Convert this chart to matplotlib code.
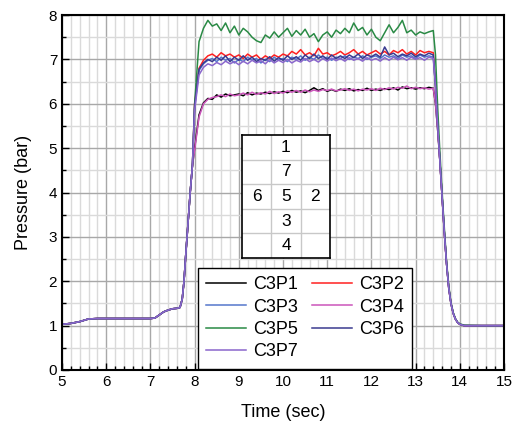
import matplotlib
matplotlib.use("Agg")
import matplotlib.pyplot as plt
from matplotlib.ticker import MultipleLocator

plt.rcParams['font.family'] = ['Liberation Sans', 'DejaVu Sans']

## time base: common ramp, plateau (per series), common decay
t_ramp = [5.0, 5.2, 5.4, 5.5, 5.6, 5.8, 6.0, 6.5, 7.0, 7.1, 7.2, 7.3, 7.4, 7.5,
          7.6, 7.67, 7.72, 7.76, 7.8, 7.85, 7.9, 7.95]
p_ramp = [1.03, 1.05, 1.09, 1.12, 1.15, 1.16, 1.16, 1.16, 1.16, 1.17, 1.24, 1.31,
          1.35, 1.38, 1.39, 1.41, 1.6, 2.0, 2.6, 3.3, 4.0, 4.6]

t_plat = [8.0, 8.1, 8.2, 8.3, 8.4, 8.5, 8.6, 8.7, 8.8, 8.9,
          9.0, 9.1, 9.2, 9.3, 9.4, 9.5, 9.6, 9.7, 9.8, 9.9,
          10.0, 10.1, 10.2, 10.3, 10.4, 10.5, 10.6, 10.7, 10.8, 10.9,
          11.0, 11.1, 11.2, 11.3, 11.4, 11.5, 11.6, 11.7, 11.8, 11.9,
          12.0, 12.1, 12.2, 12.3, 12.4, 12.5, 12.6, 12.7, 12.8, 12.9,
          13.0, 13.1, 13.2, 13.3, 13.4]

t_tail = [13.45, 13.5, 13.55, 13.6, 13.65, 13.7, 13.75, 13.8, 13.85, 13.9,
          13.95, 14.0, 14.1, 14.5, 15.0]
p_tail_hi = [6.4, 5.5, 4.7, 3.9, 3.1, 2.4, 1.85, 1.5, 1.28, 1.15, 1.07, 1.03, 1.0, 1.0, 1.0]
p_tail_lo = [6.0, 5.4, 4.7, 3.9, 3.1, 2.4, 1.85, 1.5, 1.28, 1.15, 1.07, 1.03, 1.0, 1.0, 1.0]
p_tail_c5 = [7.1, 5.9, 4.9, 4.0, 3.2, 2.45, 1.9, 1.52, 1.3, 1.16, 1.08, 1.04, 1.01, 1.0, 1.0]

c3p1 = [5.0, 5.75, 6.02, 6.12, 6.1, 6.2, 6.15, 6.22, 6.18, 6.2,
        6.22, 6.18, 6.25, 6.2, 6.24, 6.22, 6.26, 6.23, 6.27, 6.24,
        6.28, 6.25, 6.3, 6.26, 6.29, 6.25, 6.3, 6.36, 6.3, 6.34,
        6.28, 6.32, 6.28, 6.33, 6.3, 6.34, 6.29, 6.32, 6.3, 6.35,
        6.3, 6.33, 6.3, 6.34, 6.32, 6.36, 6.31, 6.38, 6.34, 6.36,
        6.33, 6.36, 6.34, 6.37, 6.35]
c3p2 = [6.0, 6.8, 6.98, 7.08, 7.12, 7.05, 7.15, 7.08, 7.12, 7.05,
        7.1, 7.02, 7.12, 7.05, 7.1, 7.0, 7.08, 7.02, 7.1, 7.05,
        7.12, 7.08, 7.18, 7.12, 7.22, 7.1, 7.15, 7.08, 7.25, 7.12,
        7.15, 7.08, 7.12, 7.18, 7.1, 7.15, 7.22, 7.12, 7.18, 7.1,
        7.15, 7.2, 7.12, 7.18, 7.1, 7.2, 7.15, 7.22, 7.12, 7.18,
        7.1, 7.2, 7.15, 7.18, 7.15]
c3p3 = [5.9, 6.75, 6.9, 6.98, 7.02, 6.95, 7.05, 6.98, 7.02, 6.92,
        7.0, 6.95, 7.05, 6.98, 7.02, 6.92, 7.0, 6.95, 7.05, 6.98,
        7.02, 6.95, 7.05, 7.0, 7.08, 6.98, 7.05, 7.0, 7.1, 7.02,
        7.05, 6.98, 7.05, 7.02, 7.08, 7.0, 7.05, 7.02, 7.08, 7.0,
        7.05, 7.08, 7.02, 7.1, 7.05, 7.08, 7.02, 7.1, 7.05, 7.08,
        7.02, 7.1, 7.05, 7.08, 7.05]
c3p4 = [4.95, 5.7, 6.0, 6.1, 6.14, 6.16, 6.2, 6.16, 6.22, 6.18,
        6.2, 6.24, 6.2, 6.26, 6.21, 6.25, 6.22, 6.28, 6.23, 6.27,
        6.24, 6.29, 6.26, 6.3, 6.26, 6.31, 6.27, 6.31, 6.28, 6.32,
        6.3, 6.33, 6.29, 6.31, 6.34, 6.3, 6.33, 6.29, 6.33, 6.31,
        6.34, 6.3, 6.35, 6.32, 6.36, 6.33, 6.37, 6.35, 6.4, 6.34,
        6.37, 6.34, 6.36, 6.33, 6.35]
c3p5 = [6.0, 7.4, 7.7, 7.88, 7.75, 7.8, 7.65, 7.82, 7.6, 7.75,
        7.55, 7.7, 7.62, 7.5, 7.42, 7.38, 7.55, 7.48, 7.62, 7.5,
        7.6, 7.7, 7.52, 7.65, 7.55, 7.68, 7.5, 7.58, 7.4, 7.55,
        7.62, 7.5, 7.66, 7.58, 7.7, 7.6, 7.82, 7.65, 7.72, 7.55,
        7.68, 7.5, 7.42, 7.6, 7.78, 7.6, 7.72, 7.88, 7.6, 7.66,
        7.55, 7.62, 7.58, 7.62, 7.65]
c3p6 = [5.95, 6.78, 6.92, 7.0, 6.95, 7.05, 6.98, 7.08, 6.95, 7.05,
        6.98, 7.08, 6.98, 7.05, 6.95, 7.02, 6.98, 7.06, 6.96, 7.04,
        6.98, 7.08, 7.0, 7.06, 6.98, 7.1, 7.02, 7.12, 7.02, 7.08,
        7.0, 7.1, 7.02, 7.08, 7.02, 7.1, 7.04, 7.12, 7.02, 7.1,
        7.06, 7.12, 7.05, 7.28, 7.1, 7.14, 7.06, 7.12, 7.08, 7.14,
        7.06, 7.12, 7.08, 7.14, 7.1]
c3p7 = [5.85, 6.65, 6.82, 6.9, 6.86, 6.93, 6.88, 6.96, 6.9, 6.95,
        6.88, 6.96, 6.9, 6.98, 6.92, 6.97, 6.9, 7.0, 6.92, 6.98,
        6.93, 7.0, 6.92, 6.98, 6.94, 7.02, 6.95, 7.0, 6.94, 7.02,
        6.96, 7.03, 6.97, 7.02, 6.96, 7.04, 6.98, 7.02, 6.96, 7.04,
        6.98, 7.02, 6.96, 7.04, 6.98, 7.05, 6.99, 7.04, 6.98, 7.05,
        7.0, 7.04, 6.98, 7.05, 7.02]

labels = ['C3P1', 'C3P2', 'C3P3', 'C3P4', 'C3P5', 'C3P6', 'C3P7']
plateaus = [c3p1, c3p2, c3p3, c3p4, c3p5, c3p6, c3p7]
tails = [p_tail_lo, p_tail_hi, p_tail_hi, p_tail_lo, p_tail_c5, p_tail_hi, p_tail_hi]
colors = ['#000000', '#ff2020', '#5577cc', '#cc55bb', '#2a8a45', '#3a3a90', '#8a66cc']

## table of sensor positions (row, col, label)
cell_rows = [0, 1, 2, 2, 2, 3, 4]
cell_cols = [1, 1, 0, 1, 2, 1, 1]
cell_text = ['1', '7', '6', '5', '2', '3', '4']

time = t_ramp + t_plat + t_tail

fig = plt.figure(figsize=(5.19, 4.23), dpi=100)
ax = fig.add_axes([0.1195, 0.1253, 0.8516, 0.8392])

lines = []
for lab, plat, tail, col in zip(labels, plateaus, tails, colors):
    ln, = ax.plot(time, p_ramp + plat + tail, color=col, lw=1.1, label=lab)
    lines.append(ln)

ax.set_xlim(5, 15)
ax.set_ylim(0, 8)
ax.xaxis.set_major_locator(MultipleLocator(1))
ax.xaxis.set_minor_locator(MultipleLocator(0.2))
ax.yaxis.set_major_locator(MultipleLocator(1))
ax.yaxis.set_minor_locator(MultipleLocator(0.5))
ax.grid(which='major', color='#a8a8a8', lw=1.0)
ax.grid(which='minor', color='#dadada', lw=1.0)
ax.set_axisbelow(True)
ax.tick_params(which='both', direction='in', top=False, right=False,
               labelsize=11, width=1.0, colors='black')
ax.tick_params(which='major', length=5)
ax.tick_params(which='minor', length=3)
for sp in ax.spines.values():
    sp.set_linewidth(1.5)

ax.set_xlabel('Time (sec)', fontsize=13, labelpad=11)
ax.set_ylabel('Pressure (bar)', fontsize=13, labelpad=12)

## row-wise legend order: 1 2 / 3 4 / 5 6 / 7
order = [0, 2, 4, 6, 1, 3, 5]
leg = ax.legend([lines[i] for i in order], [labels[i] for i in order],
                loc='lower left', bbox_to_anchor=(0.307, 0.004), ncol=2,
                fontsize=13, fancybox=False, framealpha=1, edgecolor='black',
                handlelength=2.2, handletextpad=0.4, columnspacing=0.8,
                labelspacing=0.3, borderpad=0.45, borderaxespad=0)
leg.get_frame().set_linewidth(1.0)

## inset table
tab = fig.add_axes([242 / 519, 1 - 258 / 423, 88 / 519, 123 / 423])
tab.set_xlim(0, 3)
tab.set_ylim(5, 0)
tab.set_xticks([])
tab.set_yticks([])
for k in [1, 2]:
    tab.axvline(k, color='#c8c8c8', lw=1.0)
for k in [1, 2, 3, 4]:
    tab.axhline(k, color='#c8c8c8', lw=1.0)
for r, c, s in zip(cell_rows, cell_cols, cell_text):
    tab.text(c + 0.5, r + 0.5, s, ha='center', va='center', fontsize=12.5)
for sp in tab.spines.values():
    sp.set_linewidth(1.2)

fig.savefig('out.png', dpi=100)
